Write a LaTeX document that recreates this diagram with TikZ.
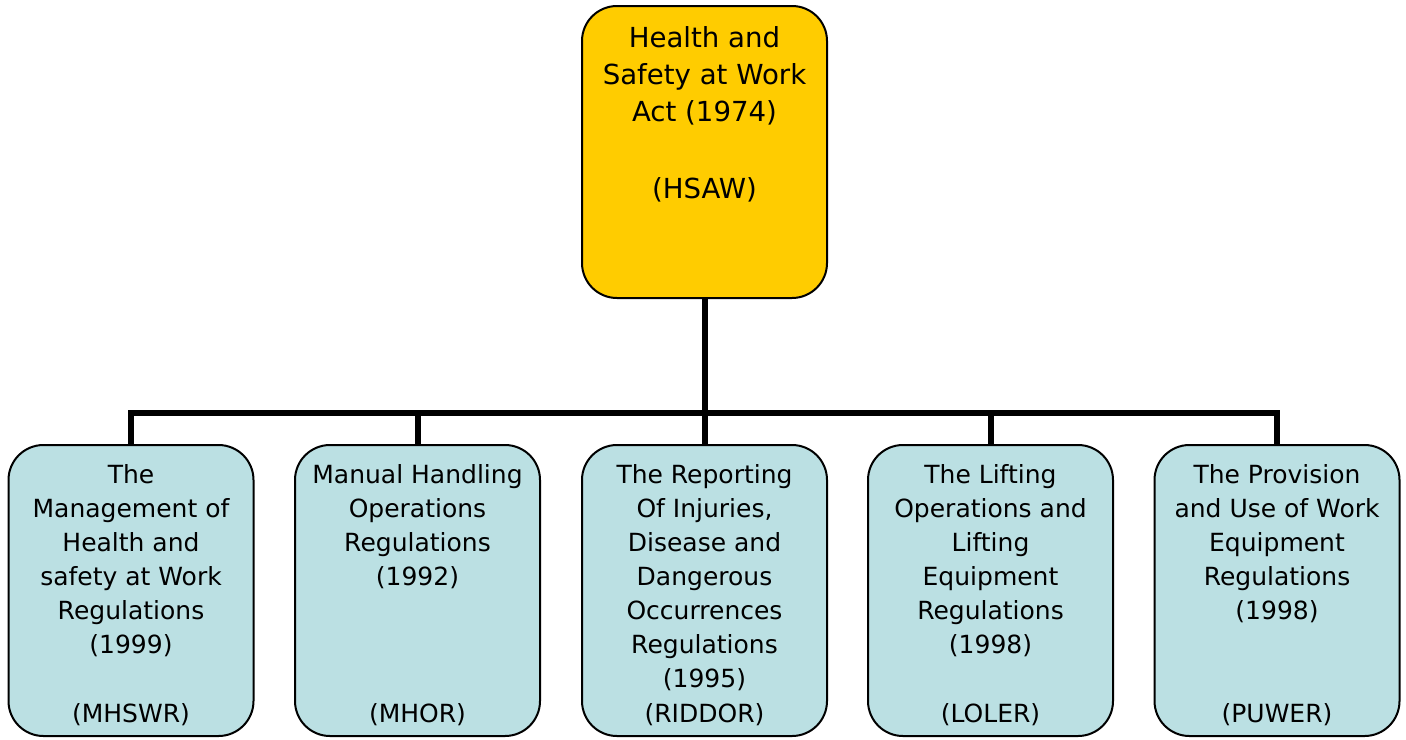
\documentclass[tikz,border=0pt]{standalone}
\usepackage{fontspec}
\setmainfont{DejaVu Sans}
\definecolor{actfill}{HTML}{FFCC00}
\definecolor{regfill}{HTML}{BBE0E3}
\begin{document}
\begin{tikzpicture}[x=0.5pt,y=-0.5pt,
  actbox/.style={draw=black, line width=1pt, fill=actfill, rounded corners=17.5pt,
    minimum width=122.5pt, minimum height=146pt, inner sep=0pt},
  regbox/.style={draw=black, line width=1pt, fill=regfill, rounded corners=17.5pt,
    minimum width=122.5pt, minimum height=145.5pt, inner sep=0pt},
  acttext/.style={align=center, inner sep=0pt, anchor=north,
    font=\fontsize{13.8}{18.5}\selectfont},
  regtext/.style={align=center, inner sep=0pt, anchor=north,
    font=\fontsize{12.5}{17.05}\selectfont},
  abbrev/.style={inner sep=0pt, anchor=base, font=\fontsize{12.5}{17.05}\selectfont},
  conn/.style={line width=3pt, draw=black}]
\useasboundingbox (0,0) rectangle (1406,739);

% parent act
\node[actbox] (act) at (704.5,152) {};
\node[acttext] (acttxt) at (704.5,25.7)
  {Health and\\Safety at Work\\Act (1974)\\[20.3pt](HSAW)};

% regulations
\node[regbox] (mhswr)  at (131,590.5) {};
\node[regbox] (mhor)   at (417.5,590.5) {};
\node[regbox] (riddor) at (704.5,590.5) {};
\node[regbox] (loler)  at (990.5,590.5) {};
\node[regbox] (puwer)  at (1277,590.5) {};

\node[regtext] (t1) at (131,463.7)
  {The\\Management of\\Health and\\safety at Work\\Regulations\\(1999)};
\node[regtext] (t2) at (417.5,463.7)
  {Manual Handling\\Operations\\Regulations\\(1992)};
\node[regtext] (t3) at (704.5,463.7)
  {The Reporting\\Of Injuries,\\Disease and\\Dangerous\\Occurrences\\Regulations\\(1995)};
\node[regtext] (t4) at (990.5,463.7)
  {The Lifting\\Operations and\\Lifting\\Equipment\\Regulations\\(1998)};
\node[regtext] (t5) at (1277,463.7)
  {The Provision\\and Use of Work\\Equipment\\Regulations\\(1998)};

\node[abbrev] (a1) at (131,722.5) {(MHSWR)};
\node[abbrev] (a2) at (417.5,722.5) {(MHOR)};
\node[abbrev] (a3) at (704.5,722.5) {(RIDDOR)};
\node[abbrev] (a4) at (990.5,722.5) {(LOLER)};
\node[abbrev] (a5) at (1277,722.5) {(PUWER)};

% tree connectors
\coordinate (bus) at (704.5,413);
\foreach \c in {mhswr,mhor,riddor,loler,puwer}
  \draw[conn] (act.south) -- (bus) -| (\c.north);
\end{tikzpicture}
\end{document}
